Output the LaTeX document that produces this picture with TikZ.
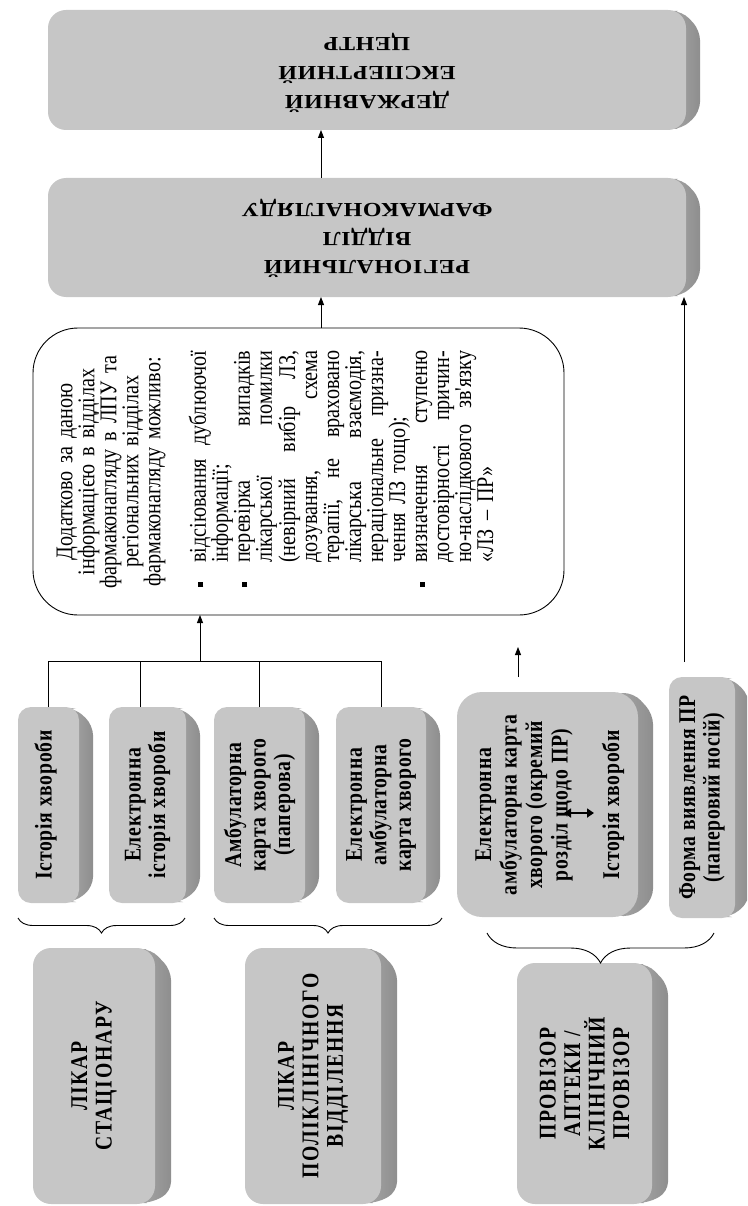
\documentclass[tikz,border=0pt]{standalone}
\usepackage{fontspec}
\setmainfont{Liberation Serif}
\newfontfamily\topfnt[FakeStretch=1.2,LetterSpace=3]{Liberation Serif}
\newfontfamily\capfnt[FakeStretch=0.82,LetterSpace=7]{Liberation Serif}
\newfontfamily\boxfnt[FakeStretch=0.82,LetterSpace=3]{Liberation Serif}
\newfontfamily\txtfnt[FakeStretch=0.84]{Liberation Serif}
\usetikzlibrary{arrows.meta,decorations.pathreplacing}
\definecolor{boxgray}{RGB}{198,198,198}
\definecolor{shdark}{RGB}{142,142,142}
\definecolor{shlight}{RGB}{168,168,168}
\tikzset{
  gbody/.style={fill=boxgray, draw=none, inner sep=0pt, outer sep=0pt},
  line/.style={line width=0.9pt, black},
  arr/.style={line width=0.9pt, black, -{Triangle[length=8pt,width=6pt]}},
  dblarr/.style={line width=2pt, black, {Triangle[length=7pt,width=9pt]}-{Triangle[length=7pt,width=9pt]}},
  brc/.style={line width=0.9pt, decorate, decoration={brace, amplitude=#1}},
  toptext/.style={rotate=180, align=center, inner sep=0pt, font=\topfnt\bfseries\fontsize{20}{29}\selectfont},
  captext/.style={rotate=90, align=center, inner sep=0pt, font=\capfnt\bfseries\fontsize{24}{24.5}\selectfont},
  boxtext/.style={rotate=90, align=center, inner sep=0pt, font=\boxfnt\bfseries\fontsize{24}{24.5}\selectfont},
}
% #1 name, #2 x1, #3 y1, #4 x2, #5 y2, #6 radius, #7 shadow dx, #8 shadow dtop, #9 shadow dbot
\newcommand\gbox[9]{%
  \shade[left color=shlight, right color=shdark, rounded corners=10pt]
     ({#4-#6},{#3+1}) -- ({#4-4},{#3+1}) -- ({#4+#7},{#3+#8+12}) -- ({#4+#7},{#5-#9-12}) -- ({#4-4},{#5-1}) -- ({#4-#6},{#5-1}) -- cycle;
  \node[gbody, rounded corners=#6, minimum width={(#4-#2)*1pt}, minimum height={(#5-#3)*1pt}]
     (#1) at ({(#2+#4)/2},{(#3+#5)/2}) {};
}
\newcommand\bsq{\makebox[30pt][l]{\hspace{6pt}\raisebox{2.5pt}{\rule{5pt}{5pt}}}}
\newcommand\nbsq{\makebox[30pt]{}}
\newcommand\jline[1]{\makebox[212pt][s]{#1}}
\newcommand\lline[1]{\makebox[212pt][l]{#1}}
\begin{document}
\begin{tikzpicture}[x=1pt,y=-1pt]
\useasboundingbox (0,0) rectangle (747,1206);
\clip (0,0) rectangle (747,1206);
% top boxes
\gbox{dec}{48}{10}{686}{130}{18}{14}{8}{6}
\node[toptext] (dec-t) at ([yshift=-3pt]dec.center) {ДЕРЖАВНИЙ\\ЕКСПЕРТНИЙ\\ЦЕНТР};
\gbox{reg}{48}{178}{686}{297}{18}{14}{8}{6}
\node[toptext, font=\topfnt\bfseries\fontsize{20}{28.5}\selectfont] (reg-t) at ([yshift=-1pt]reg.center) {РЕГІОНАЛЬНИЙ\\ВІДДІЛ\\ФАРМАКОНАГЛЯДУ};
% main box
\node[draw, line width=0.9pt, fill=white, rounded corners=45pt, minimum width=531pt, minimum height=287pt, inner sep=0pt, outer sep=0pt] (main) at (298.5,471.5) {};
\node[rotate=90, anchor=north west, inner sep=0pt, text width=242pt, font=\txtfnt\fontsize{24}{22}\selectfont] (main-t) at (56.5,593) {%
\centering Додатково за даною\\ інформацією в відділах\\ фармаконагляду в ЛПУ та\\ регіональних відділах\\ фармаконагляду можливо:\par
\vspace{22pt}
\raggedright\noindent
\bsq\jline{відсіювання\hfill дублюючої}\\
\nbsq\lline{інформації;}\\
\bsq\jline{перевірка\hfill випадків}\\
\nbsq\jline{лікарської\hfill помилки}\\
\nbsq\jline{(невірний\hfill вибір\hfill ЛЗ,}\\
\nbsq\jline{дозування,\hfill схема}\\
\nbsq\jline{терапії,\hfill не\hfill враховано}\\
\nbsq\jline{лікарська\hfill взаємодія,}\\
\nbsq\jline{нераціональне\hfill призна-}\\
\nbsq\lline{чення ЛЗ тощо);}\\
\bsq\jline{визначення\hfill ступеню}\\
\nbsq\jline{достовірності\hfill причин-}\\
\nbsq\jline{но-наслідкового\hfill зв'язку}\\
\nbsq\lline{«ЛЗ – ПР»}};
% source boxes
\gbox{b1}{18}{707}{79}{903}{13}{14}{6}{4}
\node[boxtext] (b1-t) at ([xshift=-3pt]b1.center) {Історія хвороби};
\gbox{b2}{109}{707}{186}{903}{13}{14}{6}{4}
\node[boxtext] (b2-t) at (b2.center) {Електронна\\історія хвороби};
\gbox{b3}{214}{707}{305}{903}{13}{14}{6}{4}
\node[boxtext] (b3-t) at (b3.center) {Амбулаторна\\карта хворого\\(паперова)};
\gbox{b4}{336}{707}{426}{903}{13}{14}{6}{4}
\node[boxtext] (b4-t) at (b4.center) {Електронна\\амбулаторна\\карта хворого};
\gbox{b5}{457}{692}{638}{917}{25}{15}{10}{6}
\node[boxtext, font=\boxfnt\bfseries\fontsize{24}{25.5}\selectfont] (b5-t) at (524,805) {Електронна\\амбулаторна карта\\хворого (окремий\\розділ щодо ПР)};
\node[boxtext] (b5-h) at (613,805) {Історія хвороби};
\gbox{b6}{669}{677}{735}{918}{13}{14}{6}{4}
\node[boxtext] (b6-t) at (b6.center) {Форма виявлення ПР\\(паперовий носій)};
% role boxes
\gbox{pA}{33}{948}{155}{1204}{18}{16}{10}{0}
\node[captext] (pA-t) at (pA.center) {ЛІКАР\\СТАЦІОНАРУ};
\gbox{pB}{245}{948}{381}{1204}{18}{16}{10}{0}
\node[captext] (pB-t) at (pB.center) {ЛІКАР\\ПОЛІКЛІНІЧНОГО\\ВІДДІЛЕННЯ};
\gbox{pC}{517}{963}{652}{1204}{18}{16}{10}{0}
\node[captext] (pC-t) at (pC.center) {ПРОВІЗОР\\АПТЕКИ /\\КЛІНІЧНИЙ\\ПРОВІЗОР};
% connectors
\coordinate (tree) at (200,661);
\coordinate (x2) at (140,0);
\coordinate (ax) at (321,0);
\draw[line] (b1.north) -- (b1.north |- tree) -- (b4.north |- tree) -- (b4.north);
\draw[line] (b2.north -| x2) -- (tree -| x2);
\draw[line] (b3.north) -- (b3.north |- tree);
\draw[arr] (tree) -- (tree |- main.south);
\draw[arr] (main.north -| ax) -- (reg.south -| ax);
\draw[arr] (reg.north -| ax) -- (dec.south -| ax);
\coordinate (rx) at (684,662);
\draw[arr] (rx) -- (reg.south -| rx);
\coordinate (s1) at (518,677);
\coordinate (s2) at (518,647);
\draw[arr] (s1) -- (s2);
\coordinate (d1) at (564,813);
\coordinate (d2) at (594,813);
\draw[dblarr] (d1) -- (d2);
% braces
\coordinate (br1a) at (185,918); \coordinate (br1b) at (18,918);
\coordinate (br2a) at (442,918); \coordinate (br2b) at (214,918);
\coordinate (br3a) at (714,933); \coordinate (br3b) at (487,933);
\draw[brc=15pt] (br1a) -- (br1b);
\draw[brc=15pt] (br2a) -- (br2b);
\draw[brc=30pt] (br3a) -- (br3b);
\end{tikzpicture}
\end{document}
